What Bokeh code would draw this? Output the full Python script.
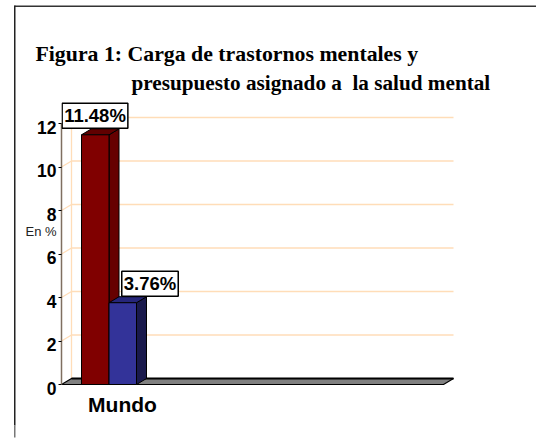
from bokeh.plotting import figure
from bokeh.models import Range1d, Label, PolyAnnotation, FixedTicker, InlineStyleSheet, LinearAxis
from bokeh.embed import file_html
from bokeh.resources import INLINE

# data
category = "Mundo"
series_names = ["Carga", "Presupuesto"]
series_values = [11.48, 3.76]
series_front = ["#800000", "#333399"]
series_top = ["#600000", "#26267a"]
series_side = ["#660000", "#1a1a4d"]
y_ticks = [0, 2, 4, 6, 8, 10, 12]
title_1 = "Figura 1: Carga de trastornos mentales y"
title_2 = "presupuesto asignado a\u00a0 la salud mental"

W, H = 536, 438
L, R, T, B = 61, 460, 90, 391
PX_Y = 21.75          # px per y unit
PX_X = 122.0          # px per category width
DX, DY = 10 / PX_X, 6 / PX_Y   # 3-D depth in data units
BAR = 27.5 / PX_X
FLOOR_END = (443 - L) / PX_X
Y0 = -(B - 384) / PX_Y
Y1 = Y0 + (B - T) / PX_Y
LABEL_DROP = 3.5 / PX_Y  # tick labels sit a little below their ticks

ABS = InlineStyleSheet(css=":host{position:absolute !important;left:0;top:0;}")

# background page: frame lines and texts
bg = figure(width=W, height=H, output_backend="svg", toolbar_location=None, tools="",
            x_range=Range1d(0, W), y_range=Range1d(H, 0), x_axis_location=None, y_axis_location=None,
            min_border=0, outline_line_color=None, background_fill_color="white")
bg.grid.visible = False
bg.stylesheets = [ABS]
for txt, x, y, fs in [(title_1, 35, 53, "21.8px"), (title_2, 131, 82, "21.2px")]:
    bg.add_layout(Label(x=x, y=y, text=txt, text_font="Liberation Serif",
                        text_font_style="bold", text_font_size=fs, text_color="black",
                        text_baseline="alphabetic", text_align="left"))
bg.add_layout(Label(x=25, y=231, text="En %", text_font="Liberation Sans",
                    text_font_size="13px", text_color="#222222", text_baseline="alphabetic"))
for xs, ys, col in [([14, 536, 536, 14], [5, 5, 6.5, 6.5], "#333333"),
                    ([13.5, 15, 15, 13.5], [5, 5, 425, 425], "#222222"),
                    ([13.5, 15, 15, 13.5], [425, 425, 437, 437], "#777777")]:
    bg.add_layout(PolyAnnotation(xs=xs, ys=ys, xs_units="data", ys_units="data",
                                 fill_color=col, fill_alpha=1, line_color=None))

# chart
p = figure(width=W, height=H, output_backend="svg", toolbar_location=None,
           x_range=Range1d(0, (R - L) / PX_X),
           y_range=Range1d(Y0, Y1),
           min_border_left=L, min_border_right=W - R, min_border_top=T, min_border_bottom=H - B,
           outline_line_color=None, background_fill_color=None, border_fill_color=None, tools="")
p.grid.visible = False
p.stylesheets = [ABS]
p.extra_y_ranges = {"labels": Range1d(Y0 + LABEL_DROP, Y1 + LABEL_DROP)}

GRID = "#FFDDB8"
for t in y_ticks[1:]:
    p.line([DX, DX + FLOOR_END], [t + DY, t + DY], line_color=GRID, line_width=1.3)
    p.line([0, DX], [t, t + DY], line_color=GRID, line_width=1.3)
p.line([DX, DX], [DY, 12 + DY], line_color=GRID, line_width=1.3)

# floor
p.patch([0, FLOOR_END, FLOOR_END + DX, DX], [0, 0, DY, DY], fill_color="#808080",
        line_color="black", line_width=1.2)
p.line([DX, FLOOR_END + DX], [DY, DY], line_color="black", line_width=2)

# bars
split = 47.5 / PX_X
cat_center = 0.5
lefts = [split - BAR, split]
for x0, v, cf, ct, cs in zip(lefts, series_values, series_front, series_top, series_side):
    x1 = x0 + BAR
    p.patch([x1, x1 + DX, x1 + DX, x1], [0, DY, v + DY, v], fill_color=cs, line_color="black", line_width=1)
    p.patch([x0, x1, x1 + DX, x0 + DX], [v, v, v + DY, v + DY], fill_color=ct, line_color="black", line_width=1)
    p.quad(left=x0, right=x1, bottom=0, top=v, fill_color=cf, line_color="black", line_width=1)

# value labels
for x0, v, (ox, oy) in zip(lefts, series_values, [(13.5, 19), (41, 19)]):
    p.add_layout(Label(x=x0, y=v, x_offset=ox, y_offset=oy, text=f"{v:.2f}%",
                       text_font="Liberation Sans", text_font_style="bold", text_font_size="18.5px",
                       text_align="center", text_baseline="middle", text_color="black",
                       background_fill_color="white", border_line_color="black", border_line_width=1.5,
                       padding=2))

# axes: inner one draws the line and ticks, outer one the numbers
ya = p.yaxis[0]
ya.ticker = FixedTicker(ticks=y_ticks)
ya.bounds = (0, 12)
ya.axis_line_color = "#7F6F60"
ya.axis_line_width = 1.5
ya.major_tick_in = 0
ya.major_tick_out = 3
ya.minor_tick_line_color = None
ya.major_tick_line_color = "black"
ya.major_label_standoff = 0
ya.major_label_overrides = {t: "" for t in y_ticks}

yb = LinearAxis(y_range_name="labels", ticker=FixedTicker(ticks=y_ticks))
yb.axis_line_color = None
yb.major_tick_line_color = None
yb.minor_tick_line_color = None
yb.major_tick_in = 0
yb.major_tick_out = 0
yb.major_label_standoff = 2
yb.major_label_text_font = "Liberation Sans"
yb.major_label_text_font_style = "bold"
yb.major_label_text_font_size = "17.5px"
yb.major_label_text_color = "black"
p.add_layout(yb, "left")

xa = p.xaxis[0]
xa.ticker = FixedTicker(ticks=[cat_center])
xa.major_label_overrides = {cat_center: category}
xa.axis_line_color = None
xa.major_tick_line_color = None
xa.minor_tick_line_color = None
xa.major_label_standoff = -5
xa.major_label_text_font = "Liberation Sans"
xa.major_label_text_font_style = "bold"
xa.major_label_text_font_size = "21px"
xa.major_label_text_color = "black"

open("out.html", "w").write(file_html([bg, p], INLINE))
